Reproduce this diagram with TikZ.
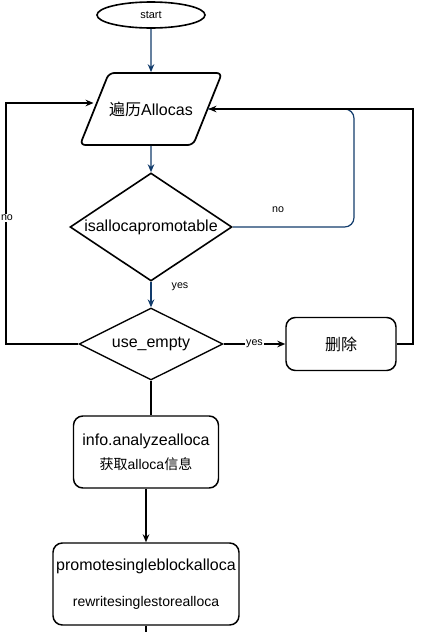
\documentclass[tikz,border=0pt]{standalone}
\usepackage{fontspec}
\setmainfont{Liberation Sans}
\newfontfamily\cjk{Noto Sans CJK SC}
\usepackage{xcolor}
\usetikzlibrary{arrows.meta,shapes.geometric}

\definecolor{flowblue}{RGB}{18,60,108}

\begin{document}
\begin{tikzpicture}[
    x=0.75pt, y=-0.75pt,
    font=\fontsize{12}{14}\selectfont,
    terminal/.style={ellipse, draw, line width=1.2pt, inner sep=0pt,
        minimum width=81pt, minimum height=19.5pt,
        font=\fontsize{8.25}{10}\selectfont},
    iobox/.style={trapezium, draw, line width=1.3pt, inner xsep=0pt, inner ysep=20.5pt,
        trapezium left angle=67.4, trapezium right angle=112.6,
        trapezium stretches body=true, rounded corners=4pt,
        minimum width=106.5pt, minimum height=54pt},
    decision/.style={diamond, draw, line width=1.2pt, inner sep=0pt},
    process/.style={rectangle, draw, line width=1.1pt, rounded corners=7pt,
        align=center, inner sep=0pt},
    flow/.style={-{Stealth[length=6pt,width=5pt,inset=2pt]}, line width=0.9pt, draw=flowblue},
    back/.style={-{Stealth[length=6pt,width=5pt,inset=2pt]}, line width=0.9pt, draw=black},
    plain/.style={line width=0.9pt, draw=black},
    lbl/.style={font=\fontsize{8}{10}\selectfont, inner sep=1pt}
]
\useasboundingbox (0,0) rectangle (421,632);

% =========================================================
% Steps
% =========================================================
\node[terminal] (start) at (151,15) {start};
\node[iobox] (loop) at (151,109) {{\cjk 遍历}Allocas};
\node[decision, shape aspect=1.5, minimum width=121.5pt, minimum height=81pt]
    (promotable) at (151,227) {isallocapromotable};
\node[decision, line width=1pt, shape aspect=2, minimum width=108pt, minimum height=54pt]
    (useempty) at (151,344) {use\_empty};
\node[process, minimum width=82.5pt, minimum height=39.75pt] (remove) at (341,344) {{\cjk 删除}};
\node[process, minimum width=108.75pt, minimum height=54pt, font=\fontsize{12}{18}\selectfont]
    (analyze) at (146,452) {info.analyzealloca\\{\fontsize{10.5}{18}\selectfont{\cjk 获取}alloca{\cjk 信息}}};
\node[process, minimum width=139.5pt, minimum height=61.5pt, font=\fontsize{12}{27}\selectfont]
    (rewrite) at (146,584) {promotesingleblockalloca\\{\fontsize{10.5}{27}\selectfont rewritesinglestorealloca}};

% turning points of the loops
\coordinate (noturn) at (354,170);
\coordinate (backright) at (413,200);
\coordinate (backleft) at (6,200);
\coordinate (exit) at (146,634);

% =========================================================
% Connectors
% =========================================================
\draw[flow] (start) -- (loop);
\draw[flow] (loop) -- (promotable);
\draw[flow] (promotable) -- (useempty);
\draw[plain, draw=flowblue, rounded corners=7pt] (promotable.east) -| (noturn) |- (loop.east);
\draw[back] (remove.east) -| (backright) |- (loop.east);
\draw[back] (useempty.west) -| (backleft) |- ([yshift=4.5pt]loop.west);
\draw[back] (useempty) -- node[lbl, fill=white] (yesempty) {yes} (remove);
\draw[plain] (useempty.south) -- (useempty.south |- analyze.north);
\draw[back] (analyze) -- (rewrite);
\draw[plain] (rewrite.south) -- (exit);

% Branch labels
\node[lbl] (nopromote) at (278,210) {no};
\node[lbl] (yespromote) at (180,287) {yes};
\node[lbl, fill=white] (noempty) at (7,218) {no};

\end{tikzpicture}
\end{document}
